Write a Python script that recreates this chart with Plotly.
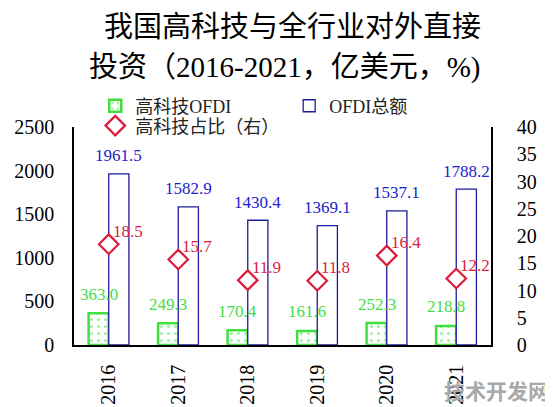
import plotly.graph_objects as go

# --- data ---
years = ["2016", "2017", "2018", "2019", "2020", "2021"]
hitech_ofdi = [363.0, 249.3, 170.4, 161.6, 252.3, 218.8]
total_ofdi = [1961.5, 1582.9, 1430.4, 1369.1, 1537.1, 1788.2]
hitech_share = [18.5, 15.7, 11.9, 11.8, 16.4, 12.2]

GREEN = "#3ee03e"
GREEN_TXT = "#44dd44"
NAVY = "#1c1c9c"
BLUE_TXT = "#2222cc"
RED = "#dc1c3c"
FONT = "Liberation Serif, Noto Sans CJK SC"

fig = go.Figure()

# high-tech OFDI (dotted green bars, left half of each category)
fig.add_trace(go.Bar(
    x=years, y=hitech_ofdi, name="高科技OFDI",
    offset=-0.29, width=0.29,
    marker=dict(color="white", line=dict(color=GREEN, width=2.5),
                pattern=dict(shape=".", fgcolor=GREEN, bgcolor="white",
                             size=7, solidity=0.15)),
    legend="legend", showlegend=True,
))

# total OFDI (hollow blue bars, right half)
fig.add_trace(go.Bar(
    x=years, y=total_ofdi, name="OFDI总额",
    offset=0, width=0.29,
    marker=dict(color="white", line=dict(color=NAVY, width=1.3)),
    legend="legend2", showlegend=True,
))

# share of high-tech (right axis)
fig.add_trace(go.Scatter(
    x=years, y=hitech_share, name="高科技占比（右）", yaxis="y2",
    mode="markers",
    marker=dict(symbol="diamond", size=15, color="white",
                line=dict(color=RED, width=2.2)),
    legend="legend3", showlegend=True,
))

# --- value labels (x given as category index) ---
annotations = []
for i, v in enumerate(hitech_ofdi):
    annotations.append(dict(x=i, y=v, text=f"{v:.1f}", showarrow=False,
                            xshift=-10, yshift=19, yanchor="middle",
                            font=dict(family=FONT, size=17, color=GREEN_TXT)))
for i, v in enumerate(total_ofdi):
    annotations.append(dict(x=i, y=v, text=f"{v:.1f}", showarrow=False,
                            xshift=10, yshift=18, yanchor="middle",
                            font=dict(family=FONT, size=17, color=BLUE_TXT)))
for i, v in enumerate(hitech_share):
    annotations.append(dict(x=i, y=v, yref="y2", text=f"{v:.1f}", showarrow=False,
                            xshift=2, yshift=13, xanchor="left", yanchor="middle",
                            font=dict(family=FONT, size=17, color=RED)))

# title, two lines placed separately
title_font = dict(family=FONT, size=29, color="black")
annotations.append(dict(x=0.523, y=1.459, xref="paper", yref="paper",
                        text="我国高科技与全行业对外直接", showarrow=False,
                        xanchor="center", yanchor="middle", font=title_font))
annotations.append(dict(x=0.504, y=1.275, xref="paper", yref="paper",
                        text="投资（2016-2021，亿美元，%)", showarrow=False,
                        xanchor="center", yanchor="middle", font=title_font))

# watermark
annotations.append(dict(x=1.012, y=-0.206, xref="paper", yref="paper",
                        text="<b>技术开发网</b>", showarrow=False,
                        xanchor="center", yanchor="middle",
                        font=dict(family="Noto Sans CJK SC", size=21, color="#a8a8a8")))

legend_style = dict(font=dict(family=FONT, size=18, color="#222222"),
                    bgcolor="rgba(0,0,0,0)", xanchor="left", yanchor="middle",
                    orientation="h")

fig.update_layout(
    width=545, height=399,
    margin=dict(l=66, r=62, t=119, b=62),
    paper_bgcolor="white", plot_bgcolor="white",
    font=dict(family=FONT, size=20, color="black"),
    barmode="overlay",
    showlegend=True,
    xaxis=dict(type="category", range=[-0.5, 5.5], showline=True,
               linecolor="black", linewidth=1.5, automargin=False,
               ticks="", tickangle=-90, showgrid=False, ticklabelstandoff=10,
               tickfont=dict(family=FONT, size=20)),
    yaxis=dict(range=[0, 2500], dtick=500, showline=True, linecolor="black",
               linewidth=1.5, showgrid=False, zeroline=False, ticks="",
               automargin=False,
               ticklabelstandoff=14, tickfont=dict(family=FONT, size=20)),
    yaxis2=dict(range=[0, 40], dtick=5, overlaying="y", side="right",
                showline=True, linecolor="black", linewidth=1.5, showgrid=False,
                zeroline=False, ticks="", ticklabelstandoff=20, automargin=False,
                tickfont=dict(family=FONT, size=20)),
    legend=dict(x=0.051, y=1.096, **legend_style),
    legend2=dict(x=0.516, y=1.096, **legend_style),
    legend3=dict(x=0.051, y=1.005, **legend_style),
    annotations=annotations,
)

fig.write_html("out.html")
